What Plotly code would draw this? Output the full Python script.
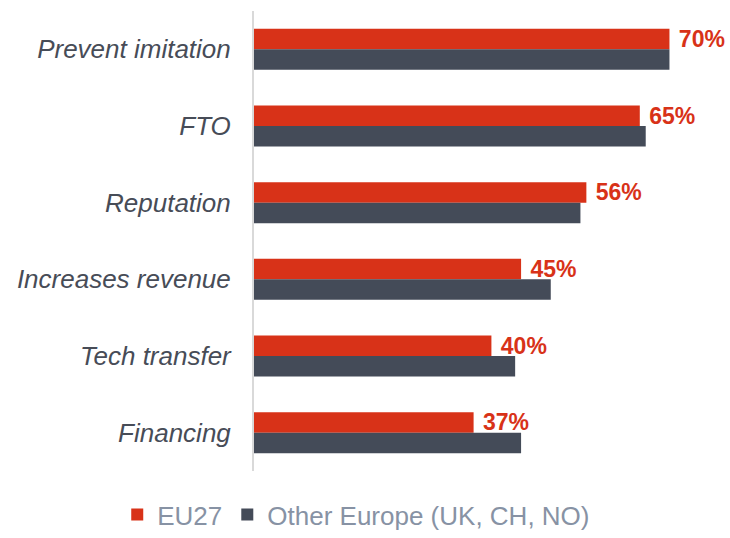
import plotly.graph_objects as go

categories = ["Prevent imitation", "FTO", "Reputation", "Increases revenue", "Tech transfer", "Financing"]
eu27 = [70, 65, 56, 45, 40, 37]
other_europe = [70, 66, 55, 50, 44, 45]
series_names = ["EU27", "Other Europe (UK, CH, NO)"]

RED = "#D83218"
GRAY = "#444B58"
FONT = "Liberation Sans, Arial, sans-serif"

fig = go.Figure()
fig.add_trace(go.Bar(
    y=categories, x=eu27, orientation="h", name=series_names[0],
    marker=dict(color=RED, line=dict(width=0)),
    text=[f" {v}%" for v in eu27], textposition="outside",
    textfont=dict(family=FONT, size=23, color=RED, weight="bold"),
    constraintext="none", cliponaxis=False,
))
fig.add_trace(go.Bar(
    y=categories, x=other_europe, orientation="h", name=series_names[1],
    marker=dict(color=GRAY, line=dict(width=0)),
))

fig.update_layout(
    width=730, height=538,
    margin=dict(l=254, r=0, t=11, b=67, autoexpand=False),
    paper_bgcolor="white", plot_bgcolor="white",
    barmode="group", bargap=0.465, bargroupgap=0,
    font=dict(family=FONT),
    showlegend=True,
    legend=dict(
        orientation="h", xref="container", yref="container",
        x=0.488, xanchor="center", y=0, yanchor="bottom",
        font=dict(family=FONT, size=26, color="#8792A4"),
        itemwidth=30, traceorder="normal",
    ),
    xaxis=dict(range=[0, 80.2], visible=False, showgrid=False, zeroline=False),
    yaxis=dict(
        autorange="reversed", showgrid=False, zeroline=False,
        showline=True, linecolor="#D9D9D9", linewidth=2,
        ticks="", ticklabelstandoff=16,
        tickfont=dict(family=FONT, size=26, color="#474C57", style="italic"),
    ),
)

fig.write_html(
    "out.html",
    config={"displayModeBar": False},
    post_script="document.body.style.margin='0';document.body.style.overflow='hidden';",
)
